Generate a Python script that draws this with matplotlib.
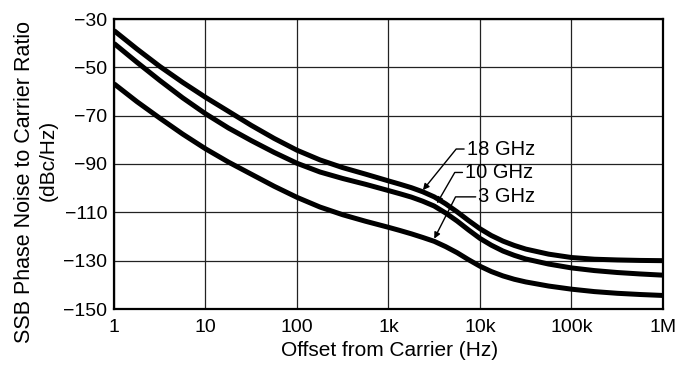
import matplotlib
matplotlib.use("Agg")
import matplotlib.pyplot as plt
import numpy as np

plt.rcParams['font.family'] = ['Liberation Sans', 'DejaVu Sans']

# Offset frequencies (Hz)
offset_hz = [1, 1.78, 3.16, 5.62, 10, 17.8, 31.6, 56.2, 100, 178, 316, 562,
             1e3, 1.33e3, 1.78e3, 2.37e3, 3.16e3, 4.22e3, 5.62e3, 7.5e3,
             1e4, 1.33e4, 1.78e4, 2.37e4, 3.16e4, 5.62e4,
             1e5, 1.78e5, 3.16e5, 5.62e5, 1e6]

# SSB phase noise (dBc/Hz)
noise_18ghz = [-34.8, -42.4, -49.6, -56.2, -62.4, -68.2, -74.0, -79.4, -84.3,
               -88.3, -91.5, -94.2, -97.0, -98.35, -99.8, -101.5, -103.6,
               -106.5, -109.8, -113.4, -116.8, -119.6, -121.9, -123.7, -125.2,
               -127.3, -128.7, -129.4, -129.7, -129.9, -130.0]
noise_10ghz = [-40.1, -47.9, -55.4, -62.6, -69.2, -75.1, -80.3, -85.2, -89.7,
               -93.3, -96.0, -98.4, -101.0, -102.3, -103.7, -105.4, -107.4,
               -110.3, -113.6, -117.3, -120.8, -123.6, -126.0, -127.8, -129.3,
               -131.4, -133.0, -134.1, -134.9, -135.5, -136.0]
noise_3ghz = [-56.8, -64.2, -71.0, -77.6, -83.7, -89.2, -94.2, -99.2, -103.8,
              -107.8, -111.0, -113.7, -116.2, -117.5, -118.9, -120.4, -122.0,
              -124.2, -126.7, -129.6, -132.3, -134.5, -136.3, -137.7, -138.8,
              -140.5, -141.8, -142.8, -143.5, -144.0, -144.4]

series_labels = ["18 GHz", "10 GHz", "3 GHz"]
series_values = [noise_18ghz, noise_10ghz, noise_3ghz]

# label text anchor (left, centre) and arrow tip, in data units
label_text_x = [7190, 6890, 9620]
label_text_y = [-83.8, -93.5, -103.6]
label_tip_x = [2378, 3381, 3162]
label_tip_y = [-100.8, -106.3, -120.9]
label_angle = [51, 60, 63]

x_ticks = [1, 10, 100, 1e3, 1e4, 1e5, 1e6]
x_ticklabels = ["1", "10", "100", "1k", "10k", "100k", "1M"]
y_ticks = [-150, -130, -110, -90, -70, -50, -30]
y_ticklabels = ["\u2212150", "\u2212130", "\u2212110", "\u221290", "\u221270", "\u221250", "\u221230"]

fig = plt.figure(figsize=(6.82, 3.66), dpi=100)
ax = fig.add_axes([114 / 682, 1 - 309 / 366, (663 - 114) / 682, (309 - 19) / 366])

for vals in series_values:
    ax.plot(offset_hz, vals, color='black', lw=3.6, solid_capstyle='butt',
            solid_joinstyle='round', zorder=3)

ax.set_xscale('log')
ax.set_xlim(1, 1e6)
ax.set_ylim(-150, -30)
ax.set_xticks(x_ticks)
ax.set_xticklabels(x_ticklabels)
ax.set_yticks(y_ticks)
ax.set_yticklabels(y_ticklabels)
ax.minorticks_off()
ax.tick_params(length=0, labelsize=14, colors='black')
ax.tick_params(axis='x', pad=7)
ax.tick_params(axis='y', pad=5)
ax.grid(True, color='#222222', lw=0.9)
ax.set_axisbelow(True)
for sp in ax.spines.values():
    sp.set_linewidth(1.6)
    sp.set_color('black')

for lab, tx, ty, px, py, ang in zip(series_labels, label_text_x, label_text_y,
                                    label_tip_x, label_tip_y, label_angle):
    ax.annotate(lab, xy=(px, py), xytext=(tx, ty), ha='left', va='center',
                fontsize=14.5, zorder=5,
                arrowprops=dict(arrowstyle='-|>', lw=1.0, color='black',
                                mutation_scale=9, shrinkA=0, shrinkB=0,
                                relpos=(0, 0.5),
                                connectionstyle=f'angle,angleA=0,angleB={ang},rad=0'))

fig.text(390 / 682, 1 - 351 / 366, "Offset from Carrier (Hz)", ha='center',
         va='center', fontsize=15)
fig.text(25 / 682, 1 - 182 / 366, "SSB Phase Noise to Carrier Ratio", rotation=90,
         ha='center', va='center', fontsize=15.5)
fig.text(48 / 682, 1 - 160 / 366, "(dBc/Hz)", rotation=90,
         ha='center', va='center', fontsize=15)

fig.savefig("out.png", dpi=100)
